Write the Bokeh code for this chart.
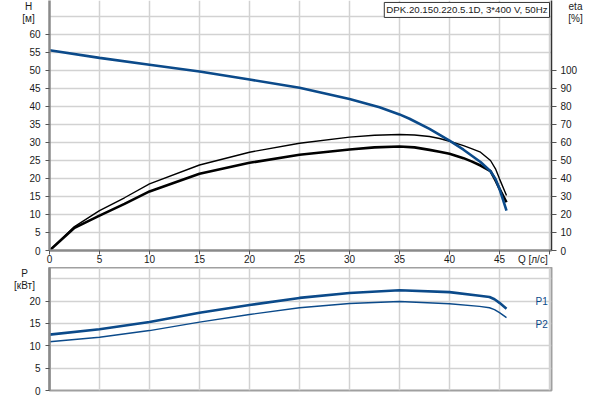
from bokeh.plotting import figure
from bokeh.models import Range1d, LinearAxis, FixedTicker, Label
from bokeh.layouts import column
from bokeh.embed import file_html
from bokeh.resources import INLINE

# ---- data ----
q_h = [0, 5, 10, 15, 20, 25, 30, 33, 35, 36, 38, 40, 41.4, 43.1, 44.1, 44.6, 45.0, 45.7]
head = [55.6, 53.5, 51.6, 49.7, 47.5, 45.2, 42.1, 39.8, 37.8, 36.6, 33.8, 30.5, 28.0, 24.6, 22.0, 19.9, 17.1, 11.1]

q_eta = [0, 2.5, 5, 7.5, 10, 15, 20, 25, 30, 32.5, 35, 36.5, 38, 39, 40, 41.4, 42.2, 43.1, 44.1, 44.6, 45.0, 45.7]
eta_total = [0, 12.6, 19.4, 25.9, 32.8, 42.6, 48.7, 53.2, 56.1, 57.3, 57.8, 57.3, 55.9, 54.9, 53.7, 51.3, 49.5, 47.2, 44.1, 38.9, 34.3, 26.8]
eta_pump = [0, 13.3, 22.2, 29.3, 37.0, 47.5, 54.6, 59.6, 63.0, 64.0, 64.4, 64.2, 63.3, 62.2, 60.7, 58.3, 56.6, 54.6, 50.0, 45.4, 39.8, 30.6]

q_p = [0, 5, 10, 15, 20, 25, 30, 35, 40, 43, 44, 44.5, 45, 45.7]
p1 = [12.5, 13.7, 15.3, 17.4, 19.1, 20.7, 21.8, 22.4, 22.0, 21.2, 20.9, 20.4, 19.6, 18.3]
p2 = [10.9, 11.9, 13.4, 15.3, 17.0, 18.5, 19.45, 19.9, 19.4, 18.8, 18.5, 18.1, 17.4, 16.3]

q_ticks = [0, 5, 10, 15, 20, 25, 30, 35, 40, 45, 50]
h_ticks = [0, 5, 10, 15, 20, 25, 30, 35, 40, 45, 50, 55, 60]
h_grid = [5, 10, 15, 20, 25, 30, 35, 40, 45, 50, 55, 60, 65]
eta_ticks = [0, 10, 20, 30, 40, 50, 60, 70, 80, 90, 100]
p_ticks = [0, 5, 10, 15, 20]
p_grid = [5, 10, 15, 20, 25]

title_text = "DPK.20.150.220.5.1D, 3*400 V, 50Hz"
q_label = "Q [л/с]"

FONT = "Liberation Sans"
FS = "10px"
BLUE = "#0b4a8a"
GRID = "#d2d2d2"
AXIS = "#8a8a8a"
TXT = "#1a1a1a"

def style_axis(ax):
    ax.major_label_text_font = FONT
    ax.major_label_text_font_size = FS
    ax.major_label_text_color = TXT
    ax.minor_tick_line_color = None
    ax.major_tick_in = 0
    ax.major_tick_out = 4
    ax.major_tick_line_color = "#555555"

# ---- top: H / eta ----
p = figure(frame_width=502, frame_height=250,
           x_range=Range1d(0, 50.2), y_range=Range1d(0, 69.44),
           min_border_left=49, min_border_right=47, min_border_top=0, min_border_bottom=0,
           output_backend="svg", toolbar_location=None, outline_line_color=None)
p.extra_y_ranges = {"eta": Range1d(0, 138.88)}

p.xaxis.ticker = FixedTicker(ticks=q_ticks)
# the unit label sits at the last tick, right-aligned (padding with no-break spaces)
p.xaxis.major_label_overrides = {50: q_label + "\u00a0" * 12}
p.xaxis.major_label_standoff = -1
p.xaxis.axis_line_color = AXIS
p.xaxis.axis_line_width = 2.5
p.yaxis.ticker = FixedTicker(ticks=h_ticks)
p.yaxis.axis_line_color = AXIS
p.yaxis.axis_line_width = 2.5
p.yaxis.major_label_standoff = 5
style_axis(p.xaxis[0])
style_axis(p.yaxis[0])

eta_ax = LinearAxis(y_range_name="eta", ticker=FixedTicker(ticks=eta_ticks))
style_axis(eta_ax)
eta_ax.major_tick_out = 5
eta_ax.major_label_standoff = 4
eta_ax.axis_line_color = "#333333"
eta_ax.axis_line_width = 1.5
p.add_layout(eta_ax, "right")

p.xgrid.ticker = FixedTicker(ticks=q_ticks[1:])
p.ygrid.ticker = FixedTicker(ticks=h_grid)
p.grid.grid_line_color = GRID
p.grid.grid_line_width = 1.5

p.line(q_eta, eta_pump, y_range_name="eta", line_color="black", line_width=1.4)
p.line(q_eta, eta_total, y_range_name="eta", line_color="black", line_width=2.6)
p.line(q_h, head, line_color=BLUE, line_width=2.6)

def lab(fig, x, y, text, place="center", align="center", baseline="middle", color=TXT, fs=FS, **kw):
    fig.add_layout(Label(x=x, y=y, text=text, text_font=FONT, text_font_size=fs,
                         text_color=color, text_align=align, text_baseline=baseline, **kw), place)

lab(p, -2.1, 69.44, "H\n[м]", place="left", baseline="top", text_line_height=1.15)
lab(p, 52.6, 69.44, "eta\n[%]", place="right", baseline="top", text_line_height=1.15)
lab(p, 50.0, 68.9, title_text, align="right", baseline="top", fs="9.7px",
    background_fill_color="white", border_line_color="#333333", border_line_width=1, padding=2)

# ---- bottom: P ----
b = figure(frame_width=502, frame_height=123,
           x_range=p.x_range, y_range=Range1d(0, 27.5),
           min_border_left=49, min_border_right=47, min_border_top=0, min_border_bottom=8,
           x_axis_location=None,
           output_backend="svg", toolbar_location=None,
           outline_line_color="#a0a0a0", outline_line_width=2)
b.yaxis.ticker = FixedTicker(ticks=p_ticks)
b.yaxis.axis_line_color = AXIS
b.yaxis.axis_line_width = 2.5
b.yaxis.major_label_standoff = 5
style_axis(b.yaxis[0])
b.xgrid.ticker = FixedTicker(ticks=q_ticks[1:])
b.ygrid.ticker = FixedTicker(ticks=p_grid)
b.grid.grid_line_color = GRID
b.grid.grid_line_width = 1.5

b.line(q_p, p1, line_color=BLUE, line_width=2.6)
b.line(q_p, p2, line_color=BLUE, line_width=1.4)

lab(b, -2.5, 27.5, "P\n[кВт]", place="left", baseline="top", text_line_height=1.1)
lab(b, 48.6, 19.9, "P1", align="left", color=BLUE)
lab(b, 48.6, 14.75, "P2", align="left", color=BLUE)

layout = column(p, b)
open("out.html", "w").write(file_html(layout, INLINE))
